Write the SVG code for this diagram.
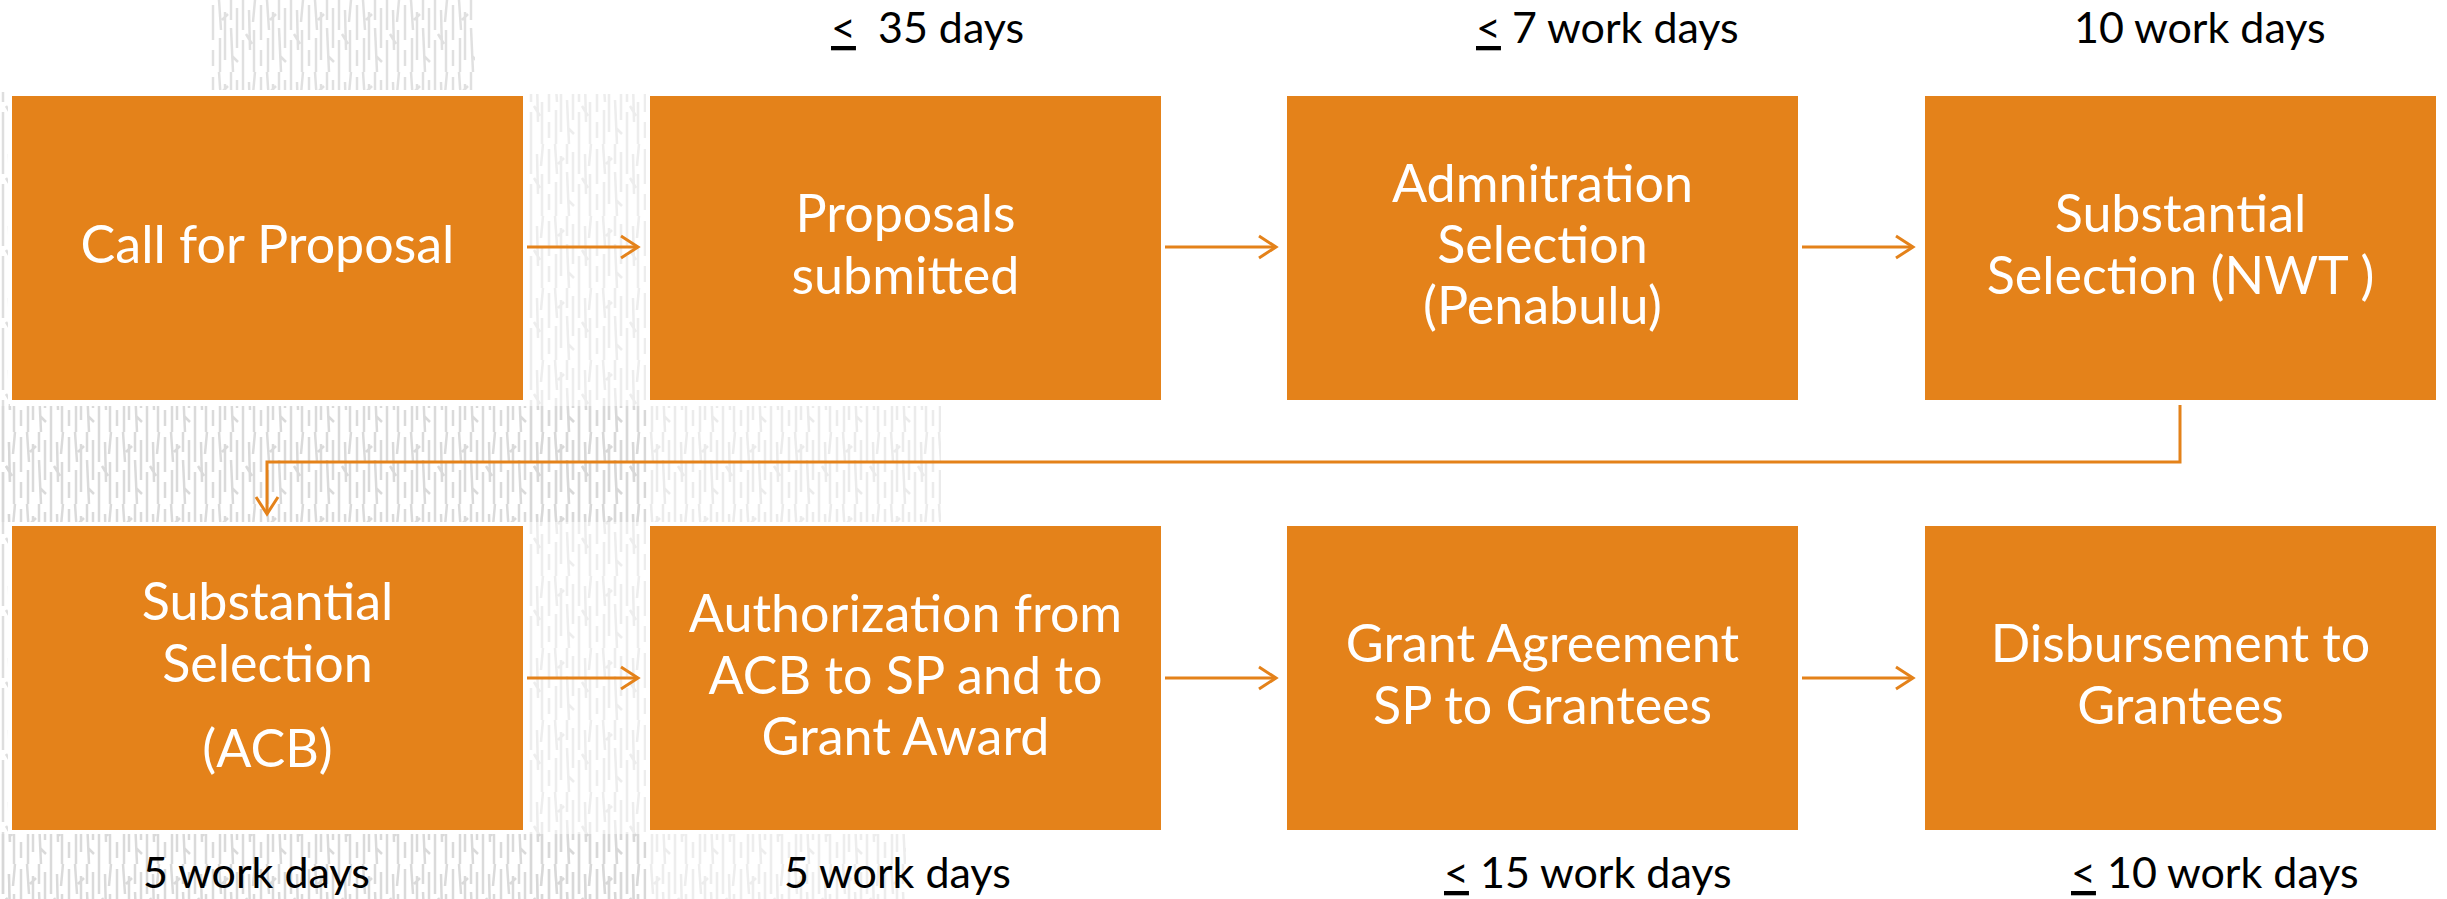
<svg xmlns="http://www.w3.org/2000/svg" width="2447" height="899" viewBox="0 0 2447 899">
<defs>
<style>
.box{fill:#E4821A;stroke:#ffffff;stroke-width:4}
.bt{font-family:Lato,"Open Sans","Liberation Sans",sans-serif;font-size:52px;fill:#ffffff;text-anchor:middle}
.lb{font-family:Lato,"Open Sans","Liberation Sans",sans-serif;font-size:43px;fill:#000000}
.cn{fill:none;stroke:#E4821A;stroke-width:3}
.u{text-decoration:underline}
.tex{fill:none;stroke:#d6d6d6;stroke-width:2.5}
</style>
<marker id="ah" markerUnits="userSpaceOnUse" markerWidth="24" markerHeight="26" refX="19" refY="13" orient="auto">
<path d="M2,2 L19,13 L2,24" fill="none" stroke="#E4821A" stroke-width="3"/>
</marker>
<pattern id="sk" patternUnits="userSpaceOnUse" width="48" height="72">
<path class="tex" d="M3,0 V30 M3,40 V72 M9,10 L10,50 M15,0 L13,22 M14,30 V72 M21,5 V40 M21,50 V66 M27,0 L29,30 M28,38 V72 M33,12 V60 M39,0 V20 M39,28 L41,72 M45,8 V48 M6,34 L12,44 M30,20 L36,14 M40,56 L46,62"/>
</pattern>
</defs>
<rect width="2447" height="899" fill="#ffffff"/>
<g id="background">
<rect x="210" y="0" width="265" height="90" fill="url(#sk)" opacity="0.75"/>
<rect x="0" y="92" width="10" height="807" fill="url(#sk)" opacity="0.8"/>
<rect x="527" y="94" width="119" height="805" fill="url(#sk)" opacity="0.45"/>
<rect x="0" y="406" width="646" height="116" fill="url(#sk)" opacity="0.9"/>
<rect x="646" y="406" width="295" height="116" fill="url(#sk)" opacity="0.5"/>
<rect x="0" y="834" width="646" height="65" fill="url(#sk)" opacity="0.9"/>
<rect x="646" y="834" width="260" height="65" fill="url(#sk)" opacity="0.45"/>
</g>
<g id="connectors">
<line class="cn" x1="527" y1="247" x2="638" y2="247" marker-end="url(#ah)"/>
<line class="cn" x1="1165" y1="247" x2="1276" y2="247" marker-end="url(#ah)"/>
<line class="cn" x1="1802" y1="247" x2="1913" y2="247" marker-end="url(#ah)"/>
<path class="cn" d="M2180,405 V462 H267 V514" marker-end="url(#ah)"/>
<line class="cn" x1="527" y1="678" x2="638" y2="678" marker-end="url(#ah)"/>
<line class="cn" x1="1165" y1="678" x2="1276" y2="678" marker-end="url(#ah)"/>
<line class="cn" x1="1802" y1="678" x2="1913" y2="678" marker-end="url(#ah)"/>
</g>
<g id="n1"><rect class="box" x="10" y="94" width="515" height="308"/><text class="bt" x="267.5" y="263">Call for Proposal</text></g>
<g id="n2"><rect class="box" x="648" y="94" width="515" height="308"/><text class="bt" x="905.5" y="232">Proposals</text><text class="bt" x="905.5" y="294">submitted</text></g>
<g id="n3"><rect class="box" x="1285" y="94" width="515" height="308"/><text class="bt" x="1542.5" y="202">Admnitration</text><text class="bt" x="1542.5" y="263">Selection</text><text class="bt" x="1542.5" y="324">(Penabulu)</text></g>
<g id="n4"><rect class="box" x="1923" y="94" width="515" height="308"/><text class="bt" x="2180.5" y="232">Substantial</text><text class="bt" x="2180.5" y="294">Selection (NWT )</text></g>
<g id="n5"><rect class="box" x="10" y="524" width="515" height="308"/><text class="bt" x="267.5" y="620">Substantial</text><text class="bt" x="267.5" y="682">Selection</text><text class="bt" x="267.5" y="767">(ACB)</text></g>
<g id="n6"><rect class="box" x="648" y="524" width="515" height="308"/><text class="bt" x="905.5" y="632">Authorization from</text><text class="bt" x="905.5" y="694">ACB to SP and to</text><text class="bt" x="905.5" y="755">Grant Award</text></g>
<g id="n7"><rect class="box" x="1285" y="524" width="515" height="308"/><text class="bt" x="1542.5" y="662">Grant Agreement</text><text class="bt" x="1542.5" y="724">SP to Grantees</text></g>
<g id="n8"><rect class="box" x="1923" y="524" width="515" height="308"/><text class="bt" x="2180.5" y="662">Disbursement to</text><text class="bt" x="2180.5" y="724">Grantees</text></g>
<g id="labels">
<text class="lb" x="831" y="43" xml:space="preserve"><tspan class="u">&lt;</tspan>  35 days</text>
<text class="lb" x="1476" y="43"><tspan class="u">&lt;</tspan> 7 work days</text>
<text class="lb" x="2074" y="43">10 work days</text>
<text class="lb" x="143" y="888">5 work days</text>
<text class="lb" x="784" y="888">5 work days</text>
<text class="lb" x="1444" y="888"><tspan class="u">&lt;</tspan> 15 work days</text>
<text class="lb" x="2071" y="888"><tspan class="u">&lt;</tspan> 10 work days</text>
</g>
</svg>
